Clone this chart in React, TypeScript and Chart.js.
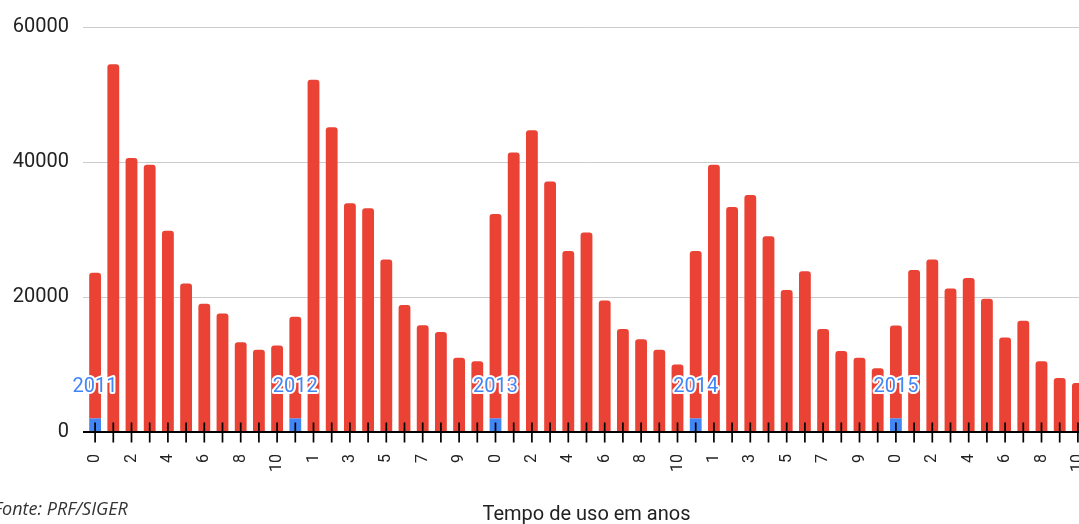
import React, { useEffect, useRef } from 'react';
import { Chart, registerables } from 'chart.js';

Chart.register(...registerables);

// Tick labels inside each year group (tempo de uso em anos)
const usageYearLabels = ['0', '1', '2', '3', '4', '5', '6', '7', '8', '9', '10'];
// Year markers (blue series, plotted with their own value)
const years = [2011, 2012, 2013, 2014, 2015];

// Red series (segment values, stacked on top of the year marker at age 0)
const values2011 = [21600, 54500, 40600, 39600, 29800, 22000, 19000, 17550, 13300, 12200, 12800];
const values2012 = [15050, 52200, 45150, 33900, 33150, 25550, 18800, 15800, 14800, 11000, 10500];
const values2013 = [30300, 41400, 44700, 37100, 26800, 29550, 19500, 15250, 13750, 12200, 10000];
const values2014 = [24800, 39600, 33350, 35100, 29000, 21050, 23800, 15250, 12000, 11000, 9450];
const values2015 = [13750, 24000, 25550, 21250, 22800, 19750, 14000, 16500, 10500, 8000, 7250];

const categories = years.flatMap(() => usageYearLabels);
const redValues = [...values2011, ...values2012, ...values2013, ...values2014, ...values2015];
const yearMarkers = years.flatMap((y) => usageYearLabels.map((_, i) => (i === 0 ? y : null)));

export default function App() {
  const ref = useRef<HTMLCanvasElement>(null);

  useEffect(() => {
    if (!ref.current) return;

    const tickMarks = {
      id: 'tickMarks',
      afterDatasetsDraw(chart: any) {
        const { ctx, chartArea, scales } = chart;
        const xs = scales.x;
        const y0 = chartArea.bottom;
        ctx.save();
        // axis line
        ctx.strokeStyle = '#000';
        ctx.lineWidth = 2;
        ctx.beginPath();
        ctx.moveTo(chartArea.left - 3, y0);
        ctx.lineTo(chartArea.right, y0);
        ctx.stroke();
        // tick marks crossing the axis
        ctx.lineWidth = 1.7;
        for (let i = 0; i < xs.ticks.length; i++) {
          const x = xs.getPixelForTick(i);
          ctx.beginPath();
          ctx.moveTo(x, y0 - 9.5);
          ctx.lineTo(x, y0 + 10.5);
          ctx.stroke();
        }
        ctx.restore();
      },
    };

    const yearLabels = {
      id: 'yearLabels',
      afterDatasetsDraw(chart: any) {
        const { ctx } = chart;
        const meta = chart.getDatasetMeta(0);
        const data = chart.data.datasets[0].data;
        ctx.save();
        ctx.font = '20px Roboto, sans-serif';
        ctx.textAlign = 'center';
        ctx.textBaseline = 'middle';
        ctx.lineJoin = 'round';
        meta.data.forEach((el: any, i: number) => {
          const v = data[i];
          if (v === null || v === undefined) return;
          const x = el.x;
          const y = el.y - 31;
          ctx.strokeStyle = '#ffffff';
          ctx.lineWidth = 4;
          ctx.strokeText(String(v), x, y);
          ctx.fillStyle = '#4285F4';
          ctx.fillText(String(v), x, y);
        });
        ctx.restore();
      },
    };

    const chart = new Chart(ref.current, {
      type: 'bar',
      data: {
        labels: categories,
        datasets: [
          {
            label: 'Ano',
            data: yearMarkers,
            backgroundColor: '#4285F4',
            borderWidth: 0,
          },
          {
            label: 'Quantidade',
            data: redValues,
            backgroundColor: '#EA4335',
            borderWidth: 0,
            borderRadius: 3,
          },
        ],
      },
      options: {
        animation: false,
        responsive: false,
        maintainAspectRatio: false,
        layout: { padding: { top: 27, right: 0, bottom: 0, left: 0 } },
        plugins: {
          legend: { display: false },
          tooltip: { enabled: false },
        },
        datasets: {
          bar: { categoryPercentage: 1, barPercentage: 0.65 },
        },
        scales: {
          x: {
            stacked: true,
            grid: { display: false, drawTicks: false },
            border: { display: false },
            ticks: {
              autoSkip: false,
              minRotation: 90,
              maxRotation: 90,
              padding: 22,
              color: '#222',
              font: { family: 'Roboto, sans-serif', size: 16 },
              callback: (_v: any, i: number) => (i % 2 === 0 ? categories[i] : ''),
            },
            title: {
              display: true,
              text: 'Tempo de uso em anos',
              color: '#222',
              font: { family: 'Roboto, sans-serif', size: 20, lineHeight: 0.9 },
              padding: { top: 0, bottom: 0 },
            },
            afterFit: (s: any) => {
              s.height = 92;
              s.paddingLeft = 0;
              s.paddingRight = 0;
            },
          },
          y: {
            stacked: true,
            min: 0,
            max: 60000,
            ticks: {
              stepSize: 20000,
              padding: 14,
              color: '#222',
              font: { family: 'Roboto, sans-serif', size: 20 },
              callback: (v: any) => String(v),
            },
            grid: {
              color: '#cccccc',
              lineWidth: 1,
              tickLength: 3,
              drawTicks: true,
            },
            border: { display: false },
            afterFit: (s: any) => {
              s.width = 86;
            },
          },
        },
      } as any,
      plugins: [tickMarks, yearLabels],
    });

    return () => chart.destroy();
  }, []);

  return (
    <div
      style={{
        position: 'fixed',
        left: 0,
        top: 0,
        width: 1079,
        height: 524,
        overflow: 'hidden',
        background: '#ffffff',
      }}
    >
      <canvas ref={ref} width={1087} height={524} style={{ display: 'block' }} />
      <div
        style={{
          position: 'absolute',
          left: -6.5,
          top: 500,
          fontFamily: '"Open Sans", sans-serif',
          fontStyle: 'italic',
          fontSize: 18,
          lineHeight: '16px',
          color: '#333',
          whiteSpace: 'nowrap',
        }}
      >
        Fonte: PRF/SIGER
      </div>
    </div>
  );
}
